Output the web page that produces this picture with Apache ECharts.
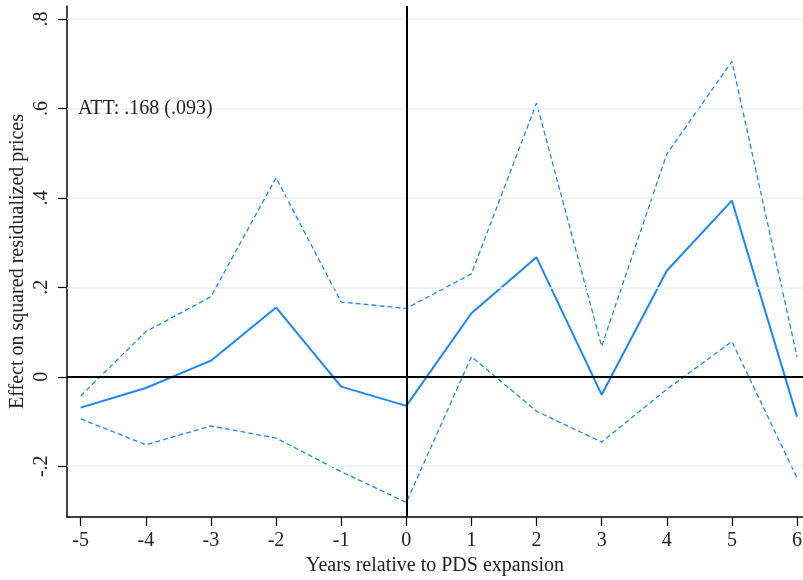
<!DOCTYPE html>
<html>
<head>
<meta charset="utf-8">
<script src="https://cdn.jsdelivr.net/npm/echarts@6/dist/echarts.min.js"></script>
<style>
html,body{margin:0;padding:0;background:#fff;}
#chart{width:803px;height:580px;}
</style>
</head>
<body>
<div id="chart"></div>
<script>
var years = [-5, -4, -3, -2, -1, 0, 1, 2, 3, 4, 5, 6];
var estimate = [-0.069, -0.025, 0.036, 0.155, -0.022, -0.065, 0.142, 0.267, -0.040, 0.237, 0.394, -0.089];
var upperCI = [-0.043, 0.101, 0.179, 0.445, 0.167, 0.153, 0.230, 0.612, 0.068, 0.498, 0.705, 0.045];
var lowerCI = [-0.094, -0.152, -0.110, -0.137, -0.212, -0.281, 0.045, -0.077, -0.146, -0.028, 0.079, -0.226];
var yTicks = [-0.2, 0, 0.2, 0.4, 0.6, 0.8];
var gridValues = [-0.2, 0.2, 0.4, 0.6, 0.8];
var annotation = 'ATT: .168 (.093)';
var xTitle = 'Years relative to PDS expansion';
var yTitle = 'Effect on squared residualized prices';

function pairs(vals){ return years.map(function(x,i){ return [x, vals[i]]; }); }
function fmtY(v){
  if (Math.abs(v) < 1e-9) return '0';
  var s = (Math.round(v*10)/10).toFixed(1);
  return s.replace('0.', '.');
}
var FONT = '"Liberation Serif", "DejaVu Serif", serif';
var BLUE = '#1a86ff';
var chart = echarts.init(document.getElementById('chart'), null, {renderer:'canvas'});
chart.setOption({
  animation: false,
  backgroundColor: '#ffffff',
  grid: {left: 67, right: 0, top: 6, bottom: 63, containLabel: false, outerBoundsMode: 'none'},
  xAxis: {
    type: 'value', min: -5.21, max: 6.092,
    name: xTitle, nameLocation: 'middle', nameGap: 39, nameMoveOverlap: false,
    nameTextStyle: {fontFamily: FONT, fontSize: 20, color: '#222'},
    axisLine: {show: true, onZero: false, lineStyle: {color: '#000', width: 1.5}},
    axisTick: {show: true, length: 9, customValues: years, lineStyle: {color: '#000', width: 1.2}},
    axisLabel: {customValues: years, margin: 14, fontFamily: FONT, fontSize: 20, color: '#222', formatter: function(v){ return String(v); }},
    splitLine: {show: false}
  },
  yAxis: {
    type: 'value', min: -0.3135, max: 0.829,
    name: yTitle, nameLocation: 'middle', nameGap: 39, nameRotate: 90, nameMoveOverlap: false,
    nameTextStyle: {fontFamily: FONT, fontSize: 20, color: '#222'},
    axisLine: {show: true, onZero: false, lineStyle: {color: '#000', width: 1.5}},
    axisTick: {show: true, length: 9, customValues: yTicks, lineStyle: {color: '#000', width: 1.2}},
    axisLabel: {customValues: yTicks, rotate: 90, margin: 15, fontFamily: FONT, fontSize: 20, color: '#222', formatter: fmtY},
    splitLine: {show: false}
  },
  graphic: [{
    type: 'text', left: 78, top: 99, z: 10,
    style: {text: annotation, font: '20px ' + FONT, fill: '#222'}
  }],
  series: [
    {
      type: 'line', data: [], silent: true,
      markLine: {
        symbol: 'none', silent: true, label: {show: false},
        lineStyle: {color: '#e9f0f3', width: 1.5, type: 'solid'},
        data: gridValues.map(function(v){ return {yAxis: v}; })
      }
    },
    {
      type: 'line', data: [], silent: true, z: 1,
      markLine: {
        symbol: 'none', silent: true, label: {show: false},
        lineStyle: {color: '#000', width: 2, type: 'solid'},
        data: [{yAxis: 0}, {xAxis: 0}]
      }
    },
    {
      type: 'line', data: pairs(upperCI), showSymbol: false, z: 3,
      lineStyle: {color: BLUE, width: 1.3, type: [5, 3]}
    },
    {
      type: 'line', data: pairs(lowerCI), showSymbol: false, z: 3,
      lineStyle: {color: BLUE, width: 1.3, type: [5, 3]}
    },
    {
      type: 'line', data: pairs(estimate), showSymbol: false, z: 4,
      lineStyle: {color: BLUE, width: 2}
    }
  ]
});
</script>
</body>
</html>
